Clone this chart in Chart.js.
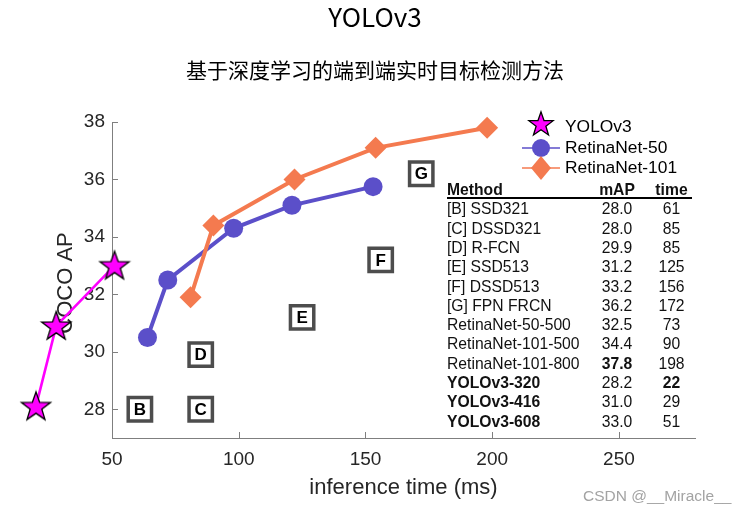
<!DOCTYPE html>
<html>
<head>
<meta charset="utf-8">
<script src="https://cdn.jsdelivr.net/npm/chart.js@4/dist/chart.umd.min.js"></script>
<style>
html,body{margin:0;padding:0;background:#fff;}
#wrap{position:relative;width:750px;height:513px;overflow:hidden;background:#fff;}
#c{position:absolute;left:0;top:0;}
.t{position:absolute;white-space:nowrap;}
#title{left:0;width:750px;text-align:center;font-family:'Noto Sans CJK SC','Noto Sans',sans-serif;font-size:26px;line-height:34px;top:-1px;color:#000;}
#subtitle{left:0;width:750px;text-align:center;font-family:'Noto Sans CJK SC',sans-serif;font-size:21px;line-height:30px;top:54px;color:#000;}
.cell{position:absolute;white-space:nowrap;font-family:'Liberation Sans',Arial,sans-serif;font-size:15.7px;line-height:18px;color:#111;}
#rule{position:absolute;left:447px;top:197px;width:245px;height:2px;background:#000;}
#wm{position:absolute;left:583px;top:486px;font-family:'Liberation Sans',Arial,sans-serif;font-size:15.5px;line-height:20px;color:#a3a3a3;white-space:nowrap;}
</style>
</head>
<body>
<div id="wrap">
<canvas id="c" width="750" height="513"></canvas>
<div id="title" class="t">YOLOv3</div>
<div id="subtitle" class="t">基于深度学习的端到端实时目标检测方法</div>
<div id="table"></div>
<div id="rule"></div>
<div id="wm">CSDN @__Miracle__</div>
</div>
<script>
// ---- data ----
const xTicks = [50, 100, 150, 200, 250];
const yTicks = [28, 30, 32, 34, 36, 38];
const yoloTime = [20, 28, 51];
const yoloAP = [28.1, 30.9, 33.0];
const r50Time = [64, 72, 98, 121, 153];
const r50AP = [30.5, 32.5, 34.3, 35.1, 35.75];
const r101Time = [81, 90, 122, 154, 198];
const r101AP = [31.9, 34.4, 36.0, 37.1, 37.8];
const seriesNames = ['YOLOv3', 'RetinaNet-50', 'RetinaNet-101'];
const tableHeader = ['Method', 'mAP', 'time'];
const tableMethods = ['[B] SSD321', '[C] DSSD321', '[D] R-FCN', '[E] SSD513', '[F] DSSD513', '[G] FPN FRCN',
  'RetinaNet-50-500', 'RetinaNet-101-500', 'RetinaNet-101-800', 'YOLOv3-320', 'YOLOv3-416', 'YOLOv3-608'];
const tableMAP = ['28.0', '28.0', '29.9', '31.2', '33.2', '36.2', '32.5', '34.4', '37.8', '28.2', '31.0', '33.0'];
const tableTime = ['61', '85', '85', '125', '156', '172', '73', '90', '198', '22', '29', '51'];
const xRange = [50, 280];
const yRange = [27, 38];

// ---- table (HTML) ----
(function () {
  const tbl = document.getElementById('table');
  const rowY0 = 209.3, rowStep = 19.3, headY = 190;
  const maxMap = Math.max(...tableMAP.map(Number));
  const minTime = Math.min(...tableTime.map(Number));
  function cell(txt, cx, cy, align, bold) {
    const d = document.createElement('div');
    d.className = 'cell';
    d.textContent = txt;
    d.style.top = (cy - 9) + 'px';
    if (align === 'left') { d.style.left = cx + 'px'; }
    else { d.style.left = (cx - 40) + 'px'; d.style.width = '80px'; d.style.textAlign = 'center'; }
    if (bold) d.style.fontWeight = 'bold';
    tbl.appendChild(d);
  }
  cell(tableHeader[0], 447, headY, 'left', true);
  cell(tableHeader[1], 617, headY, 'center', true);
  cell(tableHeader[2], 671.5, headY, 'center', true);
  tableMethods.forEach((m, i) => {
    const y = rowY0 + i * rowStep;
    cell(m, 447, y, 'left', m.startsWith('YOLOv3'));
    cell(tableMAP[i], 617, y, 'center', Number(tableMAP[i]) === maxMap);
    cell(tableTime[i], 671.5, y, 'center', Number(tableTime[i]) === minTime);
  });
})();

// ---- markers ----
const MAG = '#ff00ff', BLUE = '#5b4fc9', ORANGE = '#f47a4f';
function starImg(size, R) {
  const c = document.createElement('canvas');
  c.width = c.height = size;
  const g = c.getContext('2d');
  const cx = size / 2, cy = size / 2 + R * 0.05;
  const r = R * 0.4;
  g.beginPath();
  for (let i = 0; i < 10; i++) {
    const a = -Math.PI / 2 + i * Math.PI / 5;
    const rr = (i % 2) ? r : R;
    g.lineTo(cx + rr * Math.cos(a), cy + rr * Math.sin(a));
  }
  g.closePath();
  g.fillStyle = MAG; g.fill();
  g.lineWidth = 1.3; g.strokeStyle = '#000'; g.lineJoin = 'miter'; g.stroke();
  return c;
}
const bigStar = starImg(34, 15.3);
const smallStar = starImg(28, 12.8);

const boxRows = tableMethods.map((m, i) => ({ m, i })).filter(o => /^\[[A-Z]\]/.test(o.m));
const boxLetters = boxRows.map(o => o.m.charAt(1));
const boxPts = boxRows.map(o => ({ x: Number(tableTime[o.i]), y: Number(tableMAP[o.i]) }));

const FONT = "'Liberation Sans', Arial, sans-serif";

const decor = {
  id: 'decor',
  beforeDatasetsDraw(chart) {
    const ctx = chart.ctx, xs = chart.scales.x, ys = chart.scales.y, a = chart.chartArea;
    ctx.save();
    // inward ticks
    ctx.strokeStyle = '#7f7f7f'; ctx.lineWidth = 1;
    xTicks.forEach(v => { const px = Math.round(xs.getPixelForValue(v)) + 0.5; if (px > a.left + 2) { ctx.beginPath(); ctx.moveTo(px, a.bottom); ctx.lineTo(px, a.bottom - 6); ctx.stroke(); } });
    yTicks.forEach(v => { const py = Math.round(ys.getPixelForValue(v)) + 0.5; ctx.beginPath(); ctx.moveTo(a.left, py); ctx.lineTo(a.left + 6, py); ctx.stroke(); });
    // axis titles
    ctx.fillStyle = '#262626';
    ctx.font = '22px ' + FONT;
    ctx.textAlign = 'center'; ctx.textBaseline = 'middle';
    ctx.fillText('inference time (ms)', (a.left + a.right) / 2, 488);
    ctx.translate(66, 283); ctx.rotate(-Math.PI / 2);
    ctx.fillText('COCO AP', 0, 0);
    ctx.restore();
  },
  afterDatasetsDraw(chart) {
    const ctx = chart.ctx, xs = chart.scales.x, ys = chart.scales.y;
    ctx.save();
    // YOLOv3 stars (drawn here so that points left of the axis are kept)
    chart.getDatasetMeta(0).data.forEach(el => {
      ctx.drawImage(bigStar, el.x - bigStar.width / 2, el.y - bigStar.height / 2);
    });
    // box letters
    ctx.fillStyle = '#000'; ctx.font = 'bold 17px ' + FONT;
    ctx.textAlign = 'center'; ctx.textBaseline = 'middle';
    boxPts.forEach((p, i) => ctx.fillText(boxLetters[i], xs.getPixelForValue(p.x), ys.getPixelForValue(p.y) + 1));
    // legend
    const lx = 541, tx = 565, ly = [124, 148, 168];
    ctx.drawImage(smallStar, lx - smallStar.width / 2, ly[0] - smallStar.height / 2);
    ctx.lineWidth = 1.5;
    ctx.strokeStyle = BLUE; ctx.beginPath(); ctx.moveTo(522, ly[1]); ctx.lineTo(560, ly[1]); ctx.stroke();
    ctx.fillStyle = BLUE; ctx.beginPath(); ctx.arc(lx, ly[1], 9, 0, Math.PI * 2); ctx.fill();
    ctx.strokeStyle = ORANGE; ctx.beginPath(); ctx.moveTo(522, ly[2]); ctx.lineTo(560, ly[2]); ctx.stroke();
    ctx.fillStyle = ORANGE; ctx.beginPath();
    ctx.moveTo(lx, ly[2] - 12); ctx.lineTo(lx + 10, ly[2]); ctx.lineTo(lx, ly[2] + 12); ctx.lineTo(lx - 10, ly[2]); ctx.closePath(); ctx.fill();
    ctx.fillStyle = '#000'; ctx.font = '17.4px ' + FONT; ctx.textAlign = 'left';
    ctx.fillText(seriesNames[0], tx, 127);
    ctx.fillText(seriesNames[1], tx, 148);
    ctx.fillText(seriesNames[2], tx, 168);
    ctx.restore();
  }
};

const toPts = (xs, ys) => xs.map((x, i) => ({ x, y: ys[i] }));

new Chart(document.getElementById('c'), {
  type: 'scatter',
  data: {
    datasets: [
      { label: seriesNames[0], data: toPts(yoloTime, yoloAP), showLine: true, borderColor: MAG, borderWidth: 2.6,
        pointRadius: 0, backgroundColor: MAG, clip: false },
      { label: seriesNames[2], data: toPts(r101Time, r101AP), showLine: true, borderColor: ORANGE, borderWidth: 4,
        pointStyle: 'rectRot', pointRadius: 11, pointBackgroundColor: ORANGE, pointBorderColor: ORANGE, pointBorderWidth: 0, clip: false },
      { label: seriesNames[1], data: toPts(r50Time, r50AP), showLine: true, borderColor: BLUE, borderWidth: 4,
        pointStyle: 'circle', pointRadius: 9.5, pointBackgroundColor: BLUE, pointBorderColor: BLUE, pointBorderWidth: 0, clip: false },
      { label: 'others', data: boxPts, showLine: false, pointStyle: 'rect', pointRadius: 16.5,
        pointBackgroundColor: '#fff', pointBorderColor: '#4d4d4d', pointBorderWidth: 3.5, clip: false }
    ]
  },
  options: {
    responsive: false, animation: false, events: [],
    layout: { padding: { top: 122, right: 55, left: 0, bottom: 0 } },
    plugins: { legend: { display: false }, tooltip: { enabled: false }, title: { display: false } },
    scales: {
      x: {
        type: 'linear',
        afterBuildTicks: s => { s.min = xRange[0]; s.max = xRange[1]; s.ticks = xTicks.map(v => ({ value: v })); },
        afterFit: s => { s.height = 75; },
        grid: { display: true, drawOnChartArea: false, drawTicks: false },
        border: { display: true, color: '#7f7f7f', width: 1 },
        ticks: { font: { family: FONT, size: 19 }, color: '#262626', padding: 10, maxRotation: 0, autoSkip: false }
      },
      y: {
        type: 'linear',
        afterBuildTicks: s => { s.min = yRange[0]; s.max = yRange[1]; s.ticks = yTicks.map(v => ({ value: v })); },
        afterFit: s => { s.width = 112; },
        grid: { display: true, drawOnChartArea: false, drawTicks: false },
        border: { display: true, color: '#7f7f7f', width: 1 },
        ticks: { font: { family: FONT, size: 19 }, color: '#262626', padding: 7, autoSkip: false }
      }
    }
  },
  plugins: [decor]
});
</script>
</body>
</html>
